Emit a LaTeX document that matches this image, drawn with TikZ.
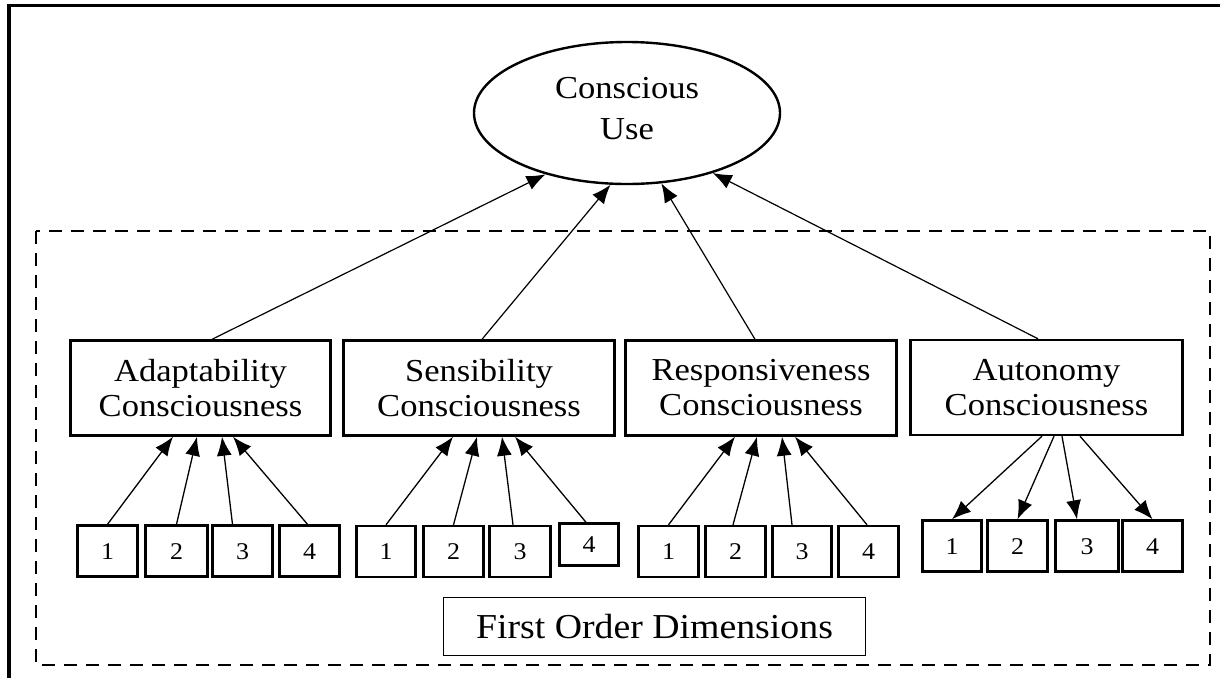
\documentclass[tikz,border=0pt]{standalone}
\usepackage{fontspec}
\setmainfont{Liberation Serif}[FakeStretch=1.08]
\usetikzlibrary{shapes.geometric,arrows.meta}
\begin{document}
\begin{tikzpicture}[x=1pt,y=-1pt,
  fbox/.style={draw, line width=2.4pt, minimum height=95pt, align=center,
    font=\fontsize{32}{35}\selectfont, inner sep=0pt},
  ibox/.style={draw, line width=2.4pt, minimum height=51pt,
    font=\fontsize{24}{26}\selectfont, inner sep=0pt, text height=16pt, text depth=-3pt},
  arr/.style={line width=1.3pt, -{Latex[length=19pt,width=15pt]}},
  conn/.style={line width=1.2pt, -{Latex[length=19pt,width=15pt]}},
]
\useasboundingbox (0,0) rectangle (1220,678);
% outer frame (only top and left edges visible)
\draw[line width=3.5pt, line join=miter] (9.2,678) -- (9.2,5.7) -- (1220,5.7);
% dashed group
\draw[line width=2.8pt, dash pattern=on 13pt off 9pt] (36,231) rectangle (1210,665);

% second-order construct
\node[ellipse, draw, line width=2.4pt, minimum width=306pt, minimum height=142pt, inner sep=0pt] (cu) at (627,113) {};
\node[align=center, font=\fontsize{32}{41}\selectfont] (cut) at (627,108.5) {Conscious\\Use};

% first-order constructs
\node[fbox, minimum width=260pt] (ad) at (200.5,388) {Adaptability\\Consciousness};
\node[fbox, minimum width=271pt] (se) at (479,388) {Sensibility\\Consciousness};
\node[fbox, minimum width=271pt] (re) at (761,388) {Responsiveness\\Consciousness};
\node[fbox, minimum width=272pt] (au) at (1046.5,387.5) {Autonomy\\Consciousness};

% items
\node[ibox, minimum width=60pt] (a1) at (107.5,551) {1};
\node[ibox, minimum width=62pt] (a2) at (176.5,551) {2};
\node[ibox, minimum width=60pt] (a3) at (242.5,551) {3};
\node[ibox, minimum width=60pt] (a4) at (309.5,551) {4};

\node[ibox, minimum width=59pt] (s1) at (386,551.5) {1};
\node[ibox, minimum width=60pt] (s2) at (453.5,551.5) {2};
\node[ibox, minimum width=61pt] (s3) at (520,551.5) {3};
\node[ibox, minimum width=59pt, minimum height=42pt] (s4) at (589,544.5) {4};

\node[ibox, minimum width=60pt] (r1) at (668.5,551.5) {1};
\node[ibox, minimum width=60pt] (r2) at (735.5,551.5) {2};
\node[ibox, minimum width=59pt] (r3) at (802,551.5) {3};
\node[ibox, minimum width=60pt] (r4) at (868.5,551.5) {4};

\node[ibox, minimum width=59pt] (u1) at (952,546) {1};
\node[ibox, minimum width=60pt] (u2) at (1017.5,546) {2};
\node[ibox, minimum width=63pt] (u3) at (1087,546) {3};
\node[ibox, minimum width=60pt] (u4) at (1152.5,546) {4};

% label box
\node[draw, line width=1.2pt, minimum width=422pt, minimum height=58pt, inner sep=0pt,
  font=\fontsize{35}{40}\selectfont] (fod) at (654.5,626.5) {First Order Dimensions};

% item arrows
\draw[arr] (a1.north) -- ([xshift=-27.5pt]ad.south);
\draw[arr] (a2.north) -- ([xshift=-3.5pt]ad.south);
\draw[arr] ([xshift=-10pt]a3.north) -- ([xshift=21.5pt]ad.south);
\draw[arr] ([xshift=-2pt]a4.north) -- ([xshift=32.5pt]ad.south);

\draw[arr] (s1.north) -- ([xshift=-26pt]se.south);
\draw[arr] (s2.north) -- ([xshift=-2pt]se.south);
\draw[arr] ([xshift=-7pt]s3.north) -- ([xshift=23pt]se.south);
\draw[arr] ([xshift=-3pt]s4.north) -- ([xshift=36pt]se.south);

\draw[arr] (r1.north) -- ([xshift=-26pt]re.south);
\draw[arr] ([xshift=-2.5pt]r2.north) -- ([xshift=-4pt]re.south);
\draw[arr] ([xshift=-10pt]r3.north) -- ([xshift=21pt]re.south);
\draw[arr] ([xshift=-1.5pt]r4.north) -- ([xshift=34pt]re.south);

\draw[arr] ([xshift=-4.5pt]au.south) -- (u1.north);
\draw[arr] ([xshift=7.5pt]au.south) -- (u2.north);
\draw[arr] ([xshift=15.5pt]au.south) -- ([xshift=-10pt]u3.north);
\draw[arr] ([xshift=33.5pt]au.south) -- (u4.north);

% construct arrows
\draw[conn] ([xshift=11.5pt]ad.north) -- (cu.217);
\draw[conn] ([xshift=3pt]se.north) -- (cu.257);
\draw[conn] ([xshift=-6pt]re.north) -- (cu.296);
\draw[conn] ([xshift=-8.5pt]au.north) -- (cu.325);
\end{tikzpicture}
\end{document}
